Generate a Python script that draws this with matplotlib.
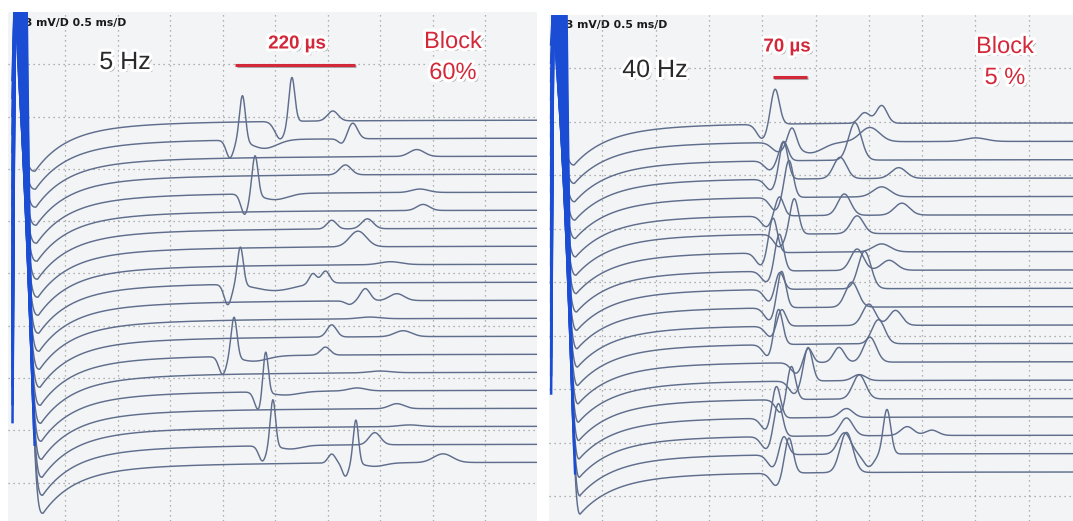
import numpy as np
import matplotlib.pyplot as plt
import matplotlib.patheffects as pe

W, H = 1073, 521

# ---- data ----
# time in ms (0.5 ms/D), amplitude in mV (0.3 mV/D)
# each response component: (latency ms, amplitude mV, width ms)
left_components = [
    [(2.55, -0.10, 0.05), (2.66, 0.26, 0.028), (3.05, 0.057, 0.05)],
    [(2.07, -0.10, 0.035), (2.19, 0.265, 0.028), (2.40, -0.05, 0.12), (3.14, -0.03, 0.035), (3.24, 0.09, 0.045)],
    [(3.85, 0.04, 0.07)],
    [(3.17, 0.057, 0.055)],
    [(2.21, -0.115, 0.035), (2.31, 0.23, 0.028), (2.50, -0.035, 0.12), (3.88, 0.02, 0.08)],
    [(3.91, 0.035, 0.06)],
    [(3.04, 0.05, 0.045), (3.38, 0.057, 0.055)],
    [(3.29, 0.09, 0.08)],
    [(3.60, 0.017, 0.1)],
    [(2.05, -0.115, 0.035), (2.17, 0.22, 0.028), (2.50, -0.04, 0.18), (2.86, 0.06, 0.035), (2.98, 0.07, 0.04)],
    [(3.21, -0.02, 0.04), (3.36, 0.07, 0.045), (3.66, 0.04, 0.07)],
    [(3.40, 0.01, 0.1)],
    [(3.04, 0.07, 0.045), (3.72, 0.034, 0.08)],
    [(2.00, -0.10, 0.035), (2.11, 0.235, 0.028), (2.30, -0.03, 0.13), (2.98, 0.046, 0.045)],
    [(3.50, 0.01, 0.1)],
    [(2.34, -0.10, 0.035), (2.41, 0.247, 0.025), (2.60, -0.02, 0.13), (3.28, 0.017, 0.08)],
    [(3.66, 0.029, 0.07)],
    [(3.78, 0.01, 0.1)],
    [(2.38, -0.086, 0.035), (2.48, 0.27, 0.025), (2.65, -0.02, 0.1), (3.45, 0.07, 0.055)],
    [(3.04, 0.052, 0.035), (3.17, -0.075, 0.03), (3.27, 0.25, 0.025), (3.45, -0.02, 0.1), (4.10, 0.05, 0.09)],
]

right_components = [
    [(2.00, -0.08, 0.05), (2.12, 0.20, 0.04), (2.96, 0.06, 0.05), (3.12, 0.10, 0.05)],
    [(2.15, -0.05, 0.06), (2.28, 0.107, 0.04), (2.45, -0.06, 0.12), (3.01, 0.08, 0.09), (4.00, 0.02, 0.1)],
    [(2.07, -0.05, 0.05), (2.20, 0.11, 0.04), (2.87, 0.21, 0.06)],
    [(2.08, -0.06, 0.05), (2.20, 0.21, 0.04), (2.73, 0.12, 0.06), (3.28, 0.06, 0.07)],
    [(2.12, -0.07, 0.05), (2.25, 0.21, 0.04), (3.12, 0.056, 0.08)],
    [(2.04, -0.06, 0.05), (2.16, 0.11, 0.04), (2.77, 0.12, 0.06), (3.31, 0.067, 0.07)],
    [(2.16, -0.07, 0.05), (2.30, 0.20, 0.04), (2.89, 0.10, 0.06)],
    [(1.99, -0.07, 0.05), (2.10, 0.20, 0.04), (3.12, 0.045, 0.08)],
    [(2.04, -0.06, 0.05), (2.16, 0.21, 0.04), (2.89, 0.12, 0.06), (3.19, 0.056, 0.07)],
    [(2.07, -0.07, 0.05), (2.16, 0.107, 0.04), (2.96, 0.21, 0.06)],
    [(2.07, -0.07, 0.05), (2.18, 0.21, 0.04), (2.84, 0.14, 0.06)],
    [(2.08, -0.06, 0.05), (2.18, 0.10, 0.04), (3.00, 0.12, 0.06), (3.25, 0.084, 0.06)],
    [(2.06, -0.07, 0.05), (2.15, 0.21, 0.04), (3.09, 0.135, 0.06)],
    [(2.32, -0.06, 0.05), (2.43, 0.084, 0.04), (2.72, 0.084, 0.05), (3.01, 0.14, 0.06)],
    [(2.30, -0.07, 0.05), (2.43, 0.19, 0.04), (2.91, 0.034, 0.06)],
    [(2.18, -0.08, 0.05), (2.27, 0.20, 0.04), (2.91, 0.135, 0.06)],
    [(2.04, -0.07, 0.05), (2.13, 0.19, 0.04), (2.79, 0.05, 0.06)],
    [(2.04, -0.07, 0.05), (2.15, 0.19, 0.04), (2.79, 0.10, 0.06), (3.36, 0.05, 0.06), (3.59, 0.03, 0.06)],
    [(2.10, -0.07, 0.05), (2.20, 0.11, 0.04), (2.77, 0.12, 0.06), (3.00, -0.07, 0.05), (3.17, 0.25, 0.035)],
    [(2.13, -0.07, 0.05), (2.25, 0.20, 0.04), (2.79, 0.225, 0.06)],
]

left_first_base, left_step = -0.62, 0.1033
right_first_base, right_step = -0.608, 0.103

# stimulus artefact + recovery (fall and minimum drift a little from trace to trace)
left_art = dict(t_start=0.0, start=0.23, t_rise=0.02, t_fall=0.03, fall_step=0.0055,
                t_min=0.215, min_step=0.004, depth=0.293, tau1=0.29, tau2=1.14,
                frac=0.8, power=3.0, blue_len=0.075)
right_art = dict(t_start=0.02, start=0.44, t_rise=0.04, t_fall=0.04, fall_step=0.0065,
                 t_min=0.235, min_step=0.003, depth=0.236, tau1=0.30, tau2=0.94,
                 frac=0.8, power=2.5, blue_len=0.08)

left_bar = (2.12, 3.26, -0.304)
right_bar = (2.10, 2.42, -0.35)

TRACE = "#5f6e8c"
BLUE = "#1b4cd4"
BG = "#f3f4f6"
RED = "#d3283a"
CEIL = 0.05  # artefact saturates just above the top of the screen


def artifact(t, p, k, base):
    tr = p["t_rise"]
    tf = p["t_fall"] + p["fall_step"] * k
    tm = p["t_min"] + p["min_step"] * k
    top = CEIL - base
    y = np.full_like(t, np.nan)
    m = (t >= p["t_start"]) & (t < tr)
    y[m] = p["start"] + (top - p["start"]) * (t[m] - p["t_start"]) / (tr - p["t_start"])
    m = (t >= tr) & (t < tf)
    y[m] = top
    m = (t >= tf) & (t < tm)
    y[m] = -p["depth"] + (top + p["depth"]) * ((tm - t[m]) / (tm - tf)) ** p["power"]
    m = t >= tm
    d = t[m] - tm
    y[m] = -p["depth"] * (p["frac"] * np.exp(-d / p["tau1"]) + (1 - p["frac"]) * np.exp(-d / p["tau2"]))
    return y, tf + p["blue_len"]


def draw_panel(ax, comps, first_base, step, art, xmax):
    t = np.linspace(art["t_start"], xmax, 5000)
    for k, cl in enumerate(comps):
        base = first_base - step * k
        a, t_blue = artifact(t, art, k, base)
        y = base + a
        for lat, amp, wid in cl:
            y = y + amp * np.exp(-0.5 * ((t - lat) / wid) ** 2)
        m = t >= t_blue
        ax.plot(t[m], y[m], color=TRACE, lw=1.05, zorder=2)
        m = t <= t_blue + 0.002
        ax.plot(t[m], y[m], color=BLUE, lw=1.8, zorder=3)


def setup(ax, xlim, ylim):
    ax.set_facecolor(BG)
    ax.set_xlim(*xlim)
    ax.set_ylim(*ylim)
    ax.set_xticks(np.arange(0.5, 4.6, 0.5))
    ax.set_yticks(-0.3 * np.arange(1, 10))
    ax.grid(True, color="#9a9a9a", lw=0.9, linestyle=(0, (1, 3)))
    ax.tick_params(length=0, labelbottom=False, labelleft=False)
    for s in ax.spines.values():
        s.set_visible(False)


fig = plt.figure(figsize=(W / 100, H / 100), dpi=100)


def px_axes(x0, y0, x1, y1):
    return fig.add_axes([x0 / W, 1 - y1 / H, (x1 - x0) / W, (y1 - y0) / H])


ax_l = px_axes(8, 12, 537, 521)
setup(ax_l, (-0.043, 4.995), (-2.92, 0))
draw_panel(ax_l, left_components, left_first_base, left_step, left_art, 4.995)

ax_r = px_axes(549, 14.5, 1073, 521)
setup(ax_r, (0, 4.915), (-2.84, 0))
draw_panel(ax_r, right_components, right_first_base, right_step, right_art, 4.915)

for ax, (a, b, yb) in ((ax_l, left_bar), (ax_r, right_bar)):
    ax.plot([a, b], [yb, yb], color=RED, lw=2.2, solid_capstyle="butt", zorder=4,
            path_effects=[pe.SimpleLineShadow(offset=(1, -1), alpha=0.3), pe.Normal()])

glow = [pe.SimplePatchShadow(offset=(2, -2), shadow_rgbFace="#707070", alpha=0.6),
        pe.Stroke(linewidth=4.5, foreground="white"), pe.Normal()]


def label(x, y, s, size, color, weight="normal"):
    fig.text(x / W, 1 - y / H, s, fontsize=size, color=color, weight=weight,
             family="Liberation Sans", ha="center", va="center", path_effects=glow, zorder=6)


label(125, 62, "5 Hz", 18, "#2a2a2a")
label(297, 44, "220 µs", 13.5, RED, "bold")
label(453, 42, "Block", 17, RED)
label(453, 73, "60%", 17, RED)
label(655, 70, "40 Hz", 18, "#2a2a2a")
label(787, 47, "70 µs", 13.5, RED, "bold")
label(1005, 47, "Block", 17, RED)
label(1005, 78, "5 %", 17, RED)

for ax in (ax_l, ax_r):
    ax.text(0.009, 0.979, "0.3 mV/D 0.5 ms/D", transform=ax.transAxes, fontsize=7.8,
            weight="bold", color="#1a1a1a", va="center", ha="left", zorder=1.5)

fig.savefig("out.png", dpi=100, facecolor="white")
